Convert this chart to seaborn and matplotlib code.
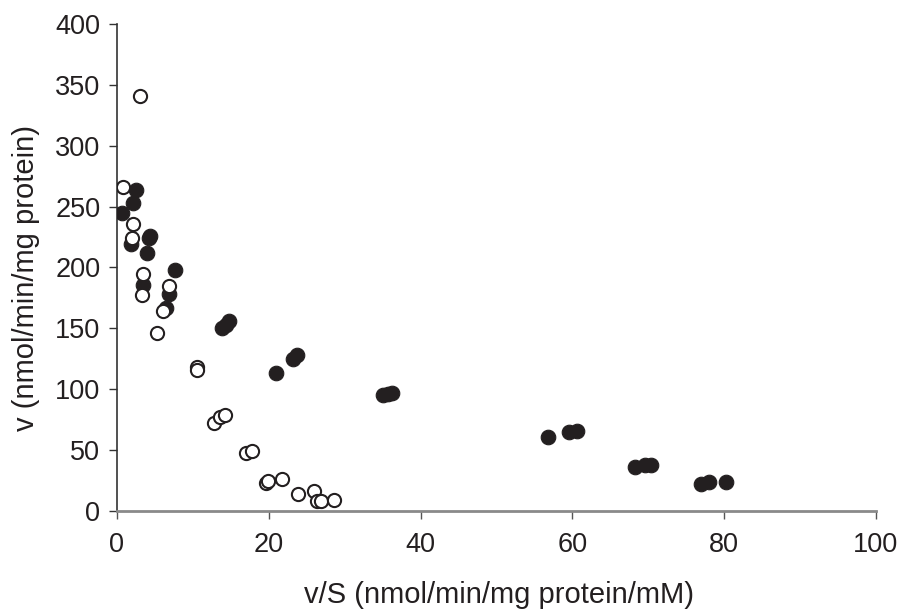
import matplotlib
matplotlib.use("Agg")
import matplotlib.pyplot as plt
import seaborn as sns
import pandas as pd

# open circles: v/S and v
open_x = [3.0, 0.8, 2.1, 2.0, 3.4, 3.3, 6.9, 6.1, 5.3, 10.5, 10.6,
          12.8, 13.6, 14.2, 17.0, 17.8, 19.6, 19.9, 21.7, 23.8, 26.0,
          26.4, 26.9, 28.6]
open_y = [341, 266, 236, 224, 195, 177, 185, 164, 146, 118, 116,
          72, 77, 79, 48, 49, 23, 25, 26, 14, 16,
          8, 8, 9]

# filled circles
filled_x = [0.6, 2.5, 2.1, 1.9, 4.3, 4.2, 4.0, 7.7, 3.4, 6.9, 6.4,
            13.8, 14.3, 14.7, 21.0, 23.2, 23.7, 35.1, 35.7, 36.2,
            56.8, 59.5, 60.6, 68.2, 69.6, 70.4, 77.0, 78.0, 80.3]
filled_y = [245, 264, 253, 219, 226, 224, 212, 198, 186, 178, 167,
            150, 153, 156, 113, 125, 128, 95, 96, 97,
            61, 65, 66, 36, 38, 38, 22, 24, 24]

x_ticks = [0, 20, 40, 60, 80, 100]
y_ticks = [0, 50, 100, 150, 200, 250, 300, 350, 400]

sns.set_theme(style="white")
plt.rcParams['font.family'] = ['Liberation Sans', 'DejaVu Sans']

open_df = pd.DataFrame({"vs": open_x, "v": open_y})
filled_df = pd.DataFrame({"vs": filled_x, "v": filled_y})

fig = plt.figure(figsize=(9.04, 6.09), dpi=100)
ax = fig.add_axes([0.1294, 0.161, 0.8396, 0.7996])

sns.scatterplot(data=filled_df, x="vs", y="v", ax=ax, s=110, color="#231f20",
                edgecolor="#231f20", linewidth=0.8, zorder=3)
sns.scatterplot(data=open_df, x="vs", y="v", ax=ax, s=90, facecolor="white",
                edgecolor="#231f20", linewidth=1.5, zorder=4)

ax.set_xlim(0, 100)
ax.set_ylim(0, 400)
ax.set_xticks(x_ticks)
ax.set_yticks(y_ticks)
ax.tick_params(axis="both", bottom=True, left=True, direction="out",
               labelsize=19.5, labelcolor="#231f20", length=6, width=1, pad=6)
ax.tick_params(axis="y", color="#333333")
ax.tick_params(axis="x", color="#555555", pad=9)

ax.set_xlabel("v/S (nmol/min/mg protein/mM)", fontsize=21, color="#231f20")
ax.set_ylabel("v (nmol/min/mg protein)", fontsize=21, color="#231f20")
ax.xaxis.set_label_coords(0.503, -0.144)
ax.yaxis.set_label_coords(-0.101, 0.478)

for side in ["top", "right"]:
    ax.spines[side].set_visible(False)
ax.spines["left"].set_color("#333333")
ax.spines["bottom"].set_color("#8a8a8a")
ax.spines["left"].set_linewidth(1.2)
ax.spines["bottom"].set_linewidth(2)

fig.savefig("out.png", dpi=100)
